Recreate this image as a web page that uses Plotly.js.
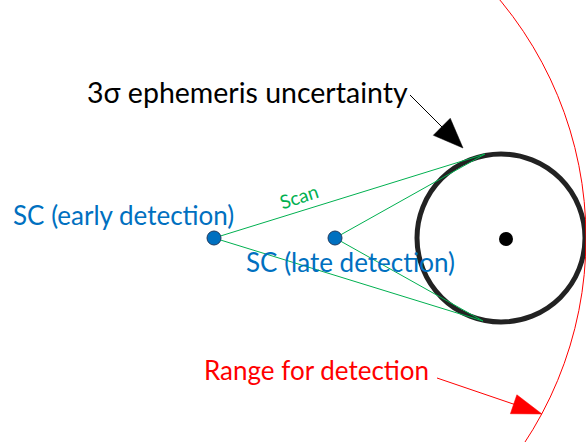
<!DOCTYPE html>
<html>
<head>
<meta charset="utf-8">
<script src="https://cdn.plot.ly/plotly-3.0.1.min.js"></script>
<style>html,body{margin:0;padding:0;background:#fff;}#chart{width:586px;height:442px;}</style>
</head>
<body>
<div id="chart"></div>
<script>
// Diagram data (pixel-like diagram units)
var scNames = ["SC (early detection)", "SC (late detection)"];
var scX = [214, 335];
var scY = [238, 238];
var uncertaintyCenter = [501, 238];
var uncertaintyRadius = 84;
var targetDot = [506, 239];
var scanEndX = [485, 483];
var scanEndY = [154, 321];
var detectionRange = 372;
var labelTexts = ["3σ ephemeris uncertainty", "SC (early detection)", "SC (late detection)", "Range for detection", "Scan"];

var BLUE = "#0070c0", GREEN = "#00b050", RED = "#ff0000", BLACK = "#000000";

function arrowHead(tail, tip, len, half) {
  var dx = tip[0] - tail[0], dy = tip[1] - tail[1];
  var L = Math.sqrt(dx * dx + dy * dy);
  var ux = dx / L, uy = dy / L;
  var bx = tip[0] - ux * len, by = tip[1] - uy * len;
  return {
    x: [tip[0], bx - uy * half, bx + uy * half, tip[0]],
    y: [tip[1], by + ux * half, by - ux * half, tip[1]]
  };
}

var traces = [];
// scan lines
for (var i = 0; i < scX.length; i++) {
  for (var j = 0; j < scanEndX.length; j++) {
    traces.push({x: [scX[i], scanEndX[j]], y: [scY[i], scanEndY[j]], mode: "lines",
      line: {color: GREEN, width: 1}, hoverinfo: "skip", showlegend: false});
  }
}
// black arrow
var bTail = [410, 95], bTip = [463, 148];
var bHead = arrowHead(bTail, bTip, 30, 12);
traces.push({x: [bTail[0], bTip[0] - 20], y: [bTail[1], bTip[1] - 20], mode: "lines", line: {color: BLACK, width: 1}, hoverinfo: "skip", showlegend: false});
traces.push({x: bHead.x, y: bHead.y, mode: "lines", fill: "toself", fillcolor: BLACK, line: {color: BLACK, width: 0.5}, hoverinfo: "skip", showlegend: false});
// red arrow
var rTail = [437, 378], rTip = [542, 414];
var rHead = arrowHead(rTail, rTip, 30, 10);
traces.push({x: [rTail[0], rTip[0] - 20], y: [rTail[1], rTip[1] - 7], mode: "lines", line: {color: RED, width: 1}, hoverinfo: "skip", showlegend: false});
traces.push({x: rHead.x, y: rHead.y, mode: "lines", fill: "toself", fillcolor: RED, line: {color: RED, width: 0.5}, hoverinfo: "skip", showlegend: false});
// SC points
traces.push({x: scX, y: scY, text: scNames, mode: "markers", marker: {size: 14, color: BLUE, line: {color: "#1f3a5f", width: 1}}, hoverinfo: "text", showlegend: false});
// target dot
traces.push({x: [targetDot[0]], y: [targetDot[1]], mode: "markers", marker: {size: 14, color: BLACK}, hoverinfo: "skip", showlegend: false});

var shapes = [
  {type: "circle", xref: "x", yref: "y",
   x0: uncertaintyCenter[0] - uncertaintyRadius, x1: uncertaintyCenter[0] + uncertaintyRadius,
   y0: uncertaintyCenter[1] - uncertaintyRadius, y1: uncertaintyCenter[1] + uncertaintyRadius,
   line: {color: "#222222", width: 5}, layer: "below"},
  {type: "circle", xref: "x", yref: "y",
   x0: scX[0] - detectionRange, x1: scX[0] + detectionRange,
   y0: scY[0] - detectionRange, y1: scY[0] + detectionRange,
   line: {color: RED, width: 1}, layer: "below"}
];

var FONT = "Lato, 'Open Sans', sans-serif";
var annotations = [
  {x: 247, y: 92, text: labelTexts[0], showarrow: false, xanchor: "center", yanchor: "middle", font: {family: FONT, size: 28.5, color: BLACK}},
  {x: 123, y: 215, text: labelTexts[1], showarrow: false, xanchor: "center", yanchor: "middle", font: {family: FONT, size: 26, color: BLUE}},
  {x: 350, y: 262, text: labelTexts[2], showarrow: false, xanchor: "center", yanchor: "middle", font: {family: FONT, size: 26, color: BLUE}},
  {x: 316, y: 370, text: labelTexts[3], showarrow: false, xanchor: "center", yanchor: "middle", font: {family: FONT, size: 26, color: RED}},
  {x: 298, y: 196, text: labelTexts[4], showarrow: false, xanchor: "center", yanchor: "middle", textangle: -18, font: {family: FONT, size: 19, color: GREEN}}
];

var layout = {
  width: 586, height: 442,
  margin: {l: 0, r: 0, t: 0, b: 0},
  paper_bgcolor: "#ffffff", plot_bgcolor: "#ffffff",
  xaxis: {range: [0, 586], visible: false, fixedrange: true},
  yaxis: {range: [442, 0], visible: false, fixedrange: true},
  shapes: shapes, annotations: annotations, showlegend: false
};
Plotly.newPlot("chart", traces, layout, {displayModeBar: false, staticPlot: true});
</script>
</body>
</html>
